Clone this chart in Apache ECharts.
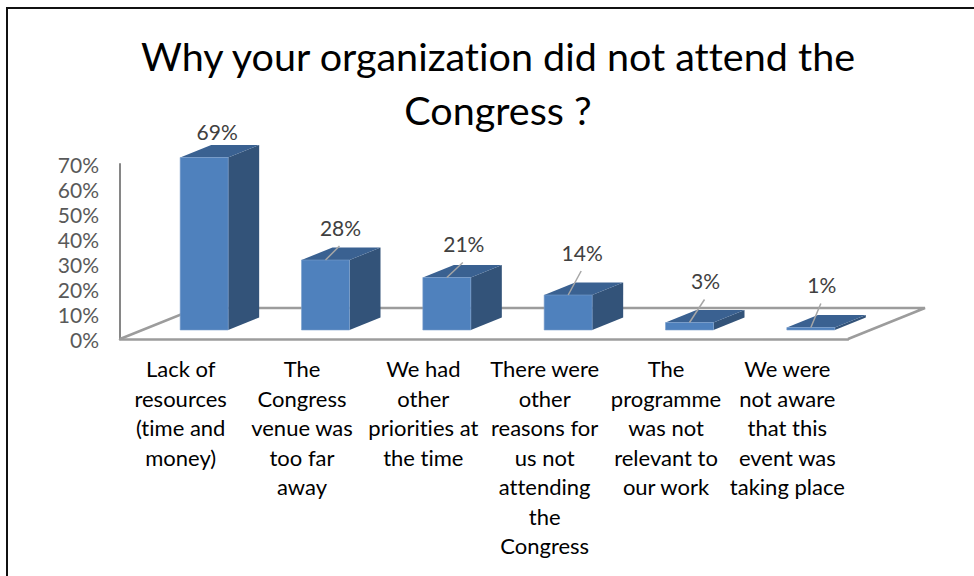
<!DOCTYPE html>
<html>
<head>
<meta charset="utf-8">
<style>html,body{margin:0;padding:0;background:#fff}#chart{width:974px;height:576px}#chart text{font-variant-ligatures:none}</style>
<script src="https://cdn.jsdelivr.net/npm/echarts@6/dist/echarts.min.js"></script>
</head>
<body>
<div id="chart"></div>
<script>
const categories = [
  'Lack of\nresources\n(time and\nmoney)',
  'The\nCongress\nvenue was\ntoo far\naway',
  'We had\nother\npriorities at\nthe time',
  'There were\nother\nreasons for\nus not\nattending\nthe\nCongress',
  'The\nprogramme\nwas not\nrelevant to\nour work',
  'We were\nnot aware\nthat this\nevent was\ntaking place'
];
const percents = [69, 28, 21, 14, 3, 1];
const yTicks = [0, 10, 20, 30, 40, 50, 60, 70];
const titleText = 'Why your organization did not attend the\nCongress ?';
// manual label placement, relative to the bar's front top centre
const labelShift = [[13, -26], [15, -33], [17, -34], [14, -43], [16, -42], [11, -43]];

const FONT = 'Lato';
const floorDx = 77, floorDy = -31;
const barShift = [23.5, -9];
const barW = 48, depthX = 31, depthY = -12.5;

function poly(pts, fill) {
  return { type: 'polygon', shape: { points: pts }, style: { fill: fill } };
}

function renderFloor(params, api) {
  const c = params.coordSys;
  const l = c.x, r = c.x + c.width, b = c.y + c.height;
  return {
    type: 'polyline',
    shape: { points: [[l, b], [l + floorDx, b + floorDy], [r + floorDx, b + floorDy], [r, b]] },
    style: { fill: 'none', stroke: '#9c9c9c', lineWidth: 2.5 }
  };
}

function renderBar(params, api) {
  const i = api.value(0);
  const top = api.coord([i, api.value(1)]);
  const base = api.coord([i, 0]);
  const x0 = top[0] + barShift[0] - barW / 2, x1 = x0 + barW;
  const y0 = top[1] + barShift[1], y1 = base[1] + barShift[1];
  const s = labelShift[i];
  const cx = top[0] + barShift[0], lx = cx + s[0], ly = y0 + s[1];
  const kids = [
    poly([[x1, y0], [x1 + depthX, y0 + depthY], [x1 + depthX, y1 + depthY], [x1, y1]], '#335379'),
    poly([[x0, y0], [x1, y0], [x1 + depthX, y0 + depthY], [x0 + depthX, y0 + depthY]], '#3a6191'),
    { type: 'rect', shape: { x: x0, y: y0, width: barW, height: y1 - y0 }, style: { fill: '#4f81bd', stroke: '#7ba0cd', lineWidth: 0.6 } }
  ];
  if (s[1] < -27) {
    kids.push({
      type: 'line',
      shape: { x1: cx, y1: y0, x2: lx - 1, y2: ly + 19 },
      style: { stroke: '#a6a6a6', lineWidth: 1.5 }
    });
  }
  kids.push({
    type: 'text',
    style: {
      x: lx, y: ly, text: api.value(1) + '%', fill: '#404040',
      font: '21px ' + FONT, align: 'center', verticalAlign: 'middle'
    }
  });
  return { type: 'group', children: kids };
}

const myChart = echarts.init(document.getElementById('chart'), null, { renderer: 'svg' });
const option = {
  animation: false,
  backgroundColor: '#fff',
  title: {
    text: titleText,
    left: 493,
    top: 23,
    textAlign: 'center',
    textStyle: { fontFamily: FONT, fontSize: 39.5, fontWeight: 'normal', color: '#000', lineHeight: 54 }
  },
  grid: { left: 120, right: 126, top: 164, bottom: 237 },
  xAxis: {
    type: 'category',
    data: categories,
    axisTick: { show: false },
    axisLine: { lineStyle: { color: '#9c9c9c', width: 2.5 } },
    axisLabel: { interval: 0, margin: 15, color: '#000', fontFamily: FONT, fontSize: 22, lineHeight: 29.5 }
  },
  yAxis: {
    type: 'value',
    min: yTicks[0],
    max: yTicks[yTicks.length - 1],
    interval: 10,
    splitLine: { show: false },
    axisTick: { show: false },
    axisLine: { show: true, lineStyle: { color: '#868686', width: 2 } },
    axisLabel: { margin: 21, color: '#595959', fontFamily: FONT, fontSize: 21, padding: [3, 0, 0, 0], formatter: '{value}%' }
  },
  series: [
    { type: 'custom', renderItem: renderFloor, data: [0], silent: true, z: 1 },
    { type: 'custom', renderItem: renderBar, encode: { x: 0, y: 1 }, data: percents.map((v, i) => [i, v]), clip: false, z: 2 }
  ],
  graphic: [{
    type: 'rect', silent: true, z: 10,
    shape: { x: 7, y: 8, width: 1000, height: 600 },
    style: { fill: 'none', stroke: '#111', lineWidth: 2 }
  }]
};
myChart.setOption(option);
</script>
</body>
</html>
